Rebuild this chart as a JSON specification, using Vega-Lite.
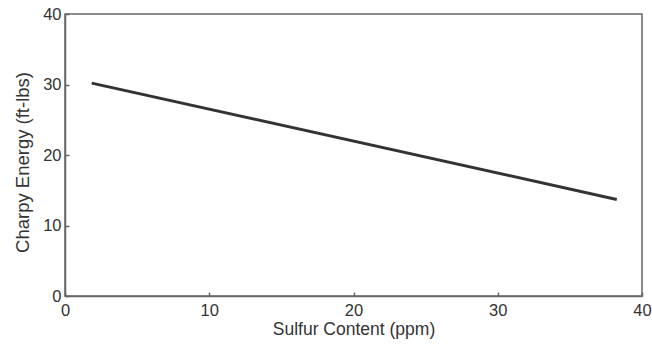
{
  "$schema": "https://vega.github.io/schema/vega-lite/v6.json",
  "autosize": "none",
  "width": 577,
  "height": 282,
  "padding": {"left": 65, "top": 14, "right": 10, "bottom": 49},
  "background": "white",
  "config": {
    "font": "Liberation Sans",
    "view": {"stroke": "#666", "strokeWidth": 1.5},
    "axis": {
      "grid": false,
      "domainColor": "#666",
      "domainWidth": 1.5,
      "tickColor": "#666",
      "tickWidth": 1.5,
      "tickSize": -4,
      "labelFont": "Liberation Sans",
      "labelFontSize": 16.5,
      "labelColor": "#333",
      "titleFont": "Liberation Sans",
      "titleFontSize": 17.5,
      "titleFontWeight": "normal",
      "titleColor": "#333"
    }
  },
  "data": {"values": [
    {"sulfur": 1.85, "energy": 30.2},
    {"sulfur": 38.25, "energy": 13.7}
  ]},
  "mark": {"type": "line", "color": "#333", "strokeWidth": 3},
  "encoding": {
    "x": {
      "field": "sulfur", "type": "quantitative",
      "title": "Sulfur Content (ppm)",
      "scale": {"domain": [0, 40], "nice": false, "zero": false},
      "axis": {"values": [0, 10, 20, 30, 40], "labelPadding": 10, "titlePadding": 2, "labelFlush": false}
    },
    "y": {
      "field": "energy", "type": "quantitative",
      "title": "Charpy Energy (ft-lbs)",
      "scale": {"domain": [0, 40], "nice": false, "zero": false},
      "axis": {"values": [0, 10, 20, 30, 40], "labelPadding": 8, "titleFontSize": 18.5, "titleX": -33, "titleY": 148, "titleBaseline": "bottom", "labelFlush": false}
    }
  }
}
